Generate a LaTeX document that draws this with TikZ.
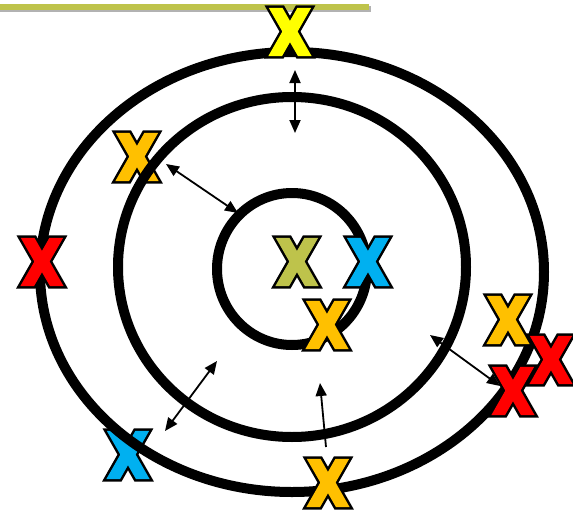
\documentclass[tikz,border=0pt]{standalone}
\usepackage{fontspec}
\usetikzlibrary{arrows.meta}

\newfontfamily\markfont{DejaVu Sans}[FakeStretch=0.84]
\definecolor{markyellow}{RGB}{255,255,0}
\definecolor{markorange}{RGB}{255,192,0}
\definecolor{markred}{RGB}{255,0,0}
\definecolor{markblue}{RGB}{0,176,240}
\definecolor{markolive}{RGB}{190,195,75}
% fat letter with a black rim
\newcommand{\posmark}[1]{\rlap{\special{pdf:literal direct 0 0 0 RG 8 w 0 j 4 M 1 Tr}X\special{pdf:literal direct 0 Tr}}%
  \textcolor{#1}{\special{pdf:literal direct 3 w 0 j 2 Tr}X\special{pdf:literal direct 0 Tr}}}

\begin{document}
\begin{tikzpicture}[x=1pt, y=-1pt,
    xnode/.style={inner sep=0pt, font=\markfont\bfseries\fontsize{62}{62}\selectfont},
    orbit/.style={line width=10pt},
    move/.style={line width=1.8pt, {Triangle[length=13pt,width=11pt]}-{Triangle[length=13pt,width=11pt]}},
    moveup/.style={line width=1.8pt, -{Triangle[length=13pt,width=11pt]}}]

    \useasboundingbox (0,0) rectangle (573,514);

    % Bar at the top
    \draw[line width=6pt, black!30] (0,9) -- (371,9);
    \draw[line width=6pt, markolive] (0,7) -- (369,7);

    % Marks lying under the orbits
    \node[xnode] (xupleft) at (137,157) {\posmark{markorange}};
    \node[xnode] (xlowleft) at (128,455) {\posmark{markblue}};

    % Orbits
    \draw[orbit] (292,272) ellipse [x radius=252, y radius=220];
    \draw[orbit] (292,267) ellipse [x radius=174, y radius=170];
    \draw[orbit] (292,269) ellipse [x radius=75, y radius=76];

    % Arrows between orbits
    \coordinate (top1) at (295,70);
    \coordinate (top2) at (295,133);
    \draw[move] (top1) -- (top2);
    \coordinate (ul1) at (166,164);
    \coordinate (ul2) at (238,213);
    \draw[move] (ul1) -- (ul2);
    \coordinate (lr1) at (430,335);
    \coordinate (lr2) at (500,386);
    \draw[move] (lr1) -- (lr2);
    \coordinate (ll1) at (217,361);
    \coordinate (ll2) at (165,431);
    \draw[move] (ll1) -- (ll2);
    \coordinate (bt1) at (326,447);
    \coordinate (bt2) at (320,383);
    \draw[moveup] (bt1) -- (bt2);

    % Marks on top
    \node[xnode] (xtop) at (290,32) {\posmark{markyellow}};
    \node[xnode] (xleft) at (42,262) {\posmark{markred}};
    \node[xnode] (xcentre) at (297,262) {\posmark{markolive}};
    \node[xnode] (xinner) at (368,262) {\posmark{markblue}};
    \node[xnode] (xinnerlow) at (327,325) {\posmark{markorange}};
    \node[xnode] (xright) at (508,320) {\posmark{markorange}};
    \node[xnode] (xfarright) at (551,360) {\posmark{markred}};
    \node[xnode] (xlowright) at (513,391) {\posmark{markred}};
    \node[xnode] (xbottom) at (328,483) {\posmark{markorange}};

\end{tikzpicture}
\end{document}
